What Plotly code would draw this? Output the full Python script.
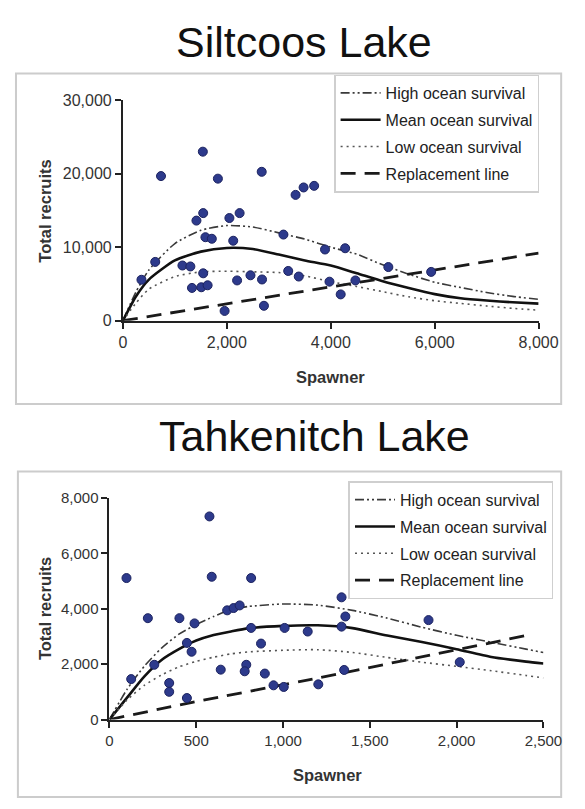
import plotly.graph_objects as go

# ---------------- Data ----------------
# Siltcoos Lake observations
silt_spawner = [357, 622, 733, 1538, 1828, 2671, 1545, 1415, 2246, 2049, 1588, 1711, 2123,
                1145, 1298, 1545, 1329, 1508, 1630, 2197, 2455, 2677, 1957, 2714, 3089, 3181,
                3323, 3477, 3680, 3889, 4277, 3384, 3975, 4474, 4191, 5108, 5932]
silt_recruits = [5570, 8000, 19680, 23000, 19330, 20260, 14640, 13620, 14640, 13970, 11360, 11150, 10880,
                 7510, 7380, 6450, 4460, 4550, 4820, 5480, 6180, 5610, 1330, 2030, 11720, 6770,
                 17120, 18130, 18350, 9690, 9860, 6010, 5310, 5480, 3580, 7300, 6640]

# Siltcoos Lake curves
silt_curve_s = [0, 250, 500, 1000, 1500, 2000, 2500, 3000, 3500, 4000, 4500, 5000, 5500, 6000, 6500, 7000, 7500, 8000]
silt_high = [0, 3900, 6900, 10500, 12300, 12950, 12750, 11950, 11100, 10000, 9050, 7600, 6330, 5230, 4520, 3840, 3310, 2900]
silt_mean = [0, 3300, 5600, 8200, 9400, 9900, 9750, 9000, 8200, 7500, 6450, 5370, 4450, 3620, 3050, 2740, 2510, 2320]
silt_low = [0, 2400, 4300, 6000, 6650, 6730, 6650, 6550, 6100, 5300, 4650, 3950, 3250, 2720, 2350, 2000, 1680, 1430]
silt_repl_s = [0, 8000]
silt_repl_r = [0, 9200]

# Tahkenitch Lake observations
tahk_spawner = [98, 589, 816, 221, 403, 490, 678, 715, 750, 816, 1009, 1142, 446, 473, 873, 258, 125,
                344, 344, 446, 641, 788, 779, 895, 945, 1004, 1203, 576, 1337, 1359, 1337, 1838, 2018, 1352]
tahk_recruits = [5106, 5153, 5106, 3658, 3658, 3470, 3941, 4024, 4118, 3306, 3306, 3176, 2765, 2447, 2741, 1976, 1459,
                 1318, 1000, 776, 1800, 1976, 1741, 1659, 1235, 1176, 1270, 7330, 4411, 3719, 3353, 3589, 2071, 1789]

# Tahkenitch Lake curves
tahk_curve_s = [0, 100, 200, 300, 400, 500, 600, 700, 800, 1000, 1200, 1400, 1600, 1800, 2000, 2200, 2400, 2500]
tahk_high = [0, 1080, 1920, 2580, 3080, 3430, 3720, 3970, 4080, 4170, 4130, 3940, 3660, 3330, 3040, 2790, 2540, 2420]
tahk_mean = [0, 780, 1550, 2150, 2540, 2850, 3050, 3180, 3290, 3380, 3400, 3300, 3030, 2800, 2540, 2260, 2090, 2020]
tahk_low = [0, 700, 1230, 1610, 1900, 2100, 2250, 2370, 2440, 2500, 2520, 2420, 2240, 2070, 1920, 1760, 1590, 1500]
tahk_repl_s = [0, 470, 1200, 2400]
tahk_repl_r = [0, 610, 1500, 3030]

series_names = ["High ocean survival", "Mean ocean survival", "Low ocean survival", "Replacement line"]

# ---------------- Figure ----------------
W, H = 585, 809
def px(x):
    return x / W
def py(y):
    return 1 - y / H

FONT = "Liberation Sans, Arial, sans-serif"
styles = [
    dict(color="#3a3a3a", width=1.6, dash="9px,3px,2px,3px,2px,3px"),
    dict(color="#111111", width=2.6, dash="solid"),
    dict(color="#555555", width=1.6, dash="2px,4px"),
    dict(color="#1a1a1a", width=2.8, dash="15px,9px"),
]

fig = go.Figure()

def add_panel(tag, xa, ya, legend, cs, curves, rs, rr, sx, sy):
    all_curves = [(cs, curves[0]), (cs, curves[1]), (cs, curves[2]), (rs, rr)]
    for i, (name, st, (xs, ys)) in enumerate(zip(series_names, styles, all_curves)):
        fig.add_trace(go.Scatter(
            x=xs, y=ys, mode="lines", name=name, line=dict(shape="spline", smoothing=0.6, **st),
            xaxis=xa, yaxis=ya, legend=legend, legendgroup=f"{tag}{i}", hoverinfo="skip"))
    fig.add_trace(go.Scatter(
        x=sx, y=sy, mode="markers", showlegend=False, xaxis=xa, yaxis=ya,
        marker=dict(size=9, color="#2d3a8c", line=dict(color="#1c2360", width=1))))

add_panel("s", "x", "y", "legend", silt_curve_s, [silt_high, silt_mean, silt_low],
          silt_repl_s, silt_repl_r, silt_spawner, silt_recruits)
add_panel("t", "x2", "y2", "legend2", tahk_curve_s, [tahk_high, tahk_mean, tahk_low],
          tahk_repl_s, tahk_repl_r, tahk_spawner, tahk_recruits)

axis_common = dict(showline=True, linewidth=2, linecolor="#222", ticks="outside", ticklen=6,
                   tickwidth=2, tickcolor="#222", showgrid=False, zeroline=False,
                   tickformat=",")

legend_common = dict(xanchor="right", yanchor="top", bgcolor="white",
                     bordercolor="#cfcfcf", borderwidth=1.5, itemwidth=40, tracegroupgap=3,
                     font=dict(family=FONT, size=16, color="#222"))

fig.update_layout(
    width=W, height=H,
    margin=dict(l=0, r=0, t=0, b=0),
    paper_bgcolor="white", plot_bgcolor="white",
    font=dict(family=FONT, color="#222"),
    xaxis=dict(domain=[px(124), px(557.5)], range=[0, 8000], dtick=2000, anchor="y",
               tickfont=dict(family=FONT, size=16, color="#333"), **axis_common),
    yaxis=dict(domain=[py(318.8), py(93.3)], range=[0, 30000], dtick=10000, anchor="x",
               tickfont=dict(family=FONT, size=16, color="#333"), **axis_common),
    xaxis2=dict(domain=[px(110), px(562.5)], range=[0, 2500], dtick=500, anchor="y2",
                tickfont=dict(family=FONT, size=15, color="#333"), **axis_common),
    yaxis2=dict(domain=[py(726.7), py(500)], range=[0, 8000], dtick=2000, anchor="x2",
                tickfont=dict(family=FONT, size=15, color="#333"), **axis_common),
    legend=dict(x=px(558), y=py(67), **legend_common),
    legend2=dict(x=px(573), y=py(483), **legend_common),
    showlegend=True,
)

# Panel frames
fig.add_shape(type="rect", xref="paper", yref="paper", x0=px(12.5), x1=px(581), y0=py(404), y1=py(66),
              line=dict(color="#cccccc", width=2), layer="below")
fig.add_shape(type="rect", xref="paper", yref="paper", x0=px(14.5), x1=px(581), y0=py(806), y1=py(473),
              line=dict(color="#cccccc", width=2), layer="below")

ann = []
ann.append(dict(text="Siltcoos Lake", x=px(313), y=py(34), xref="paper", yref="paper",
                xanchor="center", yanchor="middle", showarrow=False,
                font=dict(family=FONT, size=43, color="#111")))
ann.append(dict(text="Tahkenitch Lake", x=px(324), y=py(437), xref="paper", yref="paper",
                xanchor="center", yanchor="middle", showarrow=False,
                font=dict(family=FONT, size=43, color="#111")))
for xx, yy in [(42.5, 206.5), (43.5, 613)]:
    ann.append(dict(text="<b>Total recruits</b>", x=px(xx), y=py(yy), xref="paper", yref="paper",
                    xanchor="center", yanchor="middle", textangle=-90, showarrow=False,
                    font=dict(family=FONT, size=16.5, color="#333")))
for xx, yy in [(340, 376), (337, 783)]:
    ann.append(dict(text="<b>Spawner</b>", x=px(xx), y=py(yy), xref="paper", yref="paper",
                    xanchor="center", yanchor="middle", showarrow=False,
                    font=dict(family=FONT, size=16.5, color="#333")))
fig.update_layout(annotations=ann)

fig.write_html("out.html", config={"displayModeBar": False},
               post_script="document.body.style.margin='0';document.body.style.overflow='hidden';")
